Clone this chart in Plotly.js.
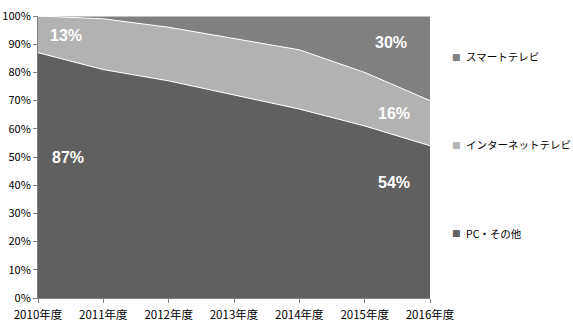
<!DOCTYPE html>
<html><head><meta charset="utf-8">
<script src="https://cdn.plot.ly/plotly-3.0.1.min.js"></script>
<style>body{margin:0;padding:0;background:#fff}#chart{width:573px;height:323px}</style>
</head><body><div id="chart"></div>
<script>
const categories = ["2010年度","2011年度","2012年度","2013年度","2014年度","2015年度","2016年度"];
const pcOther = [87, 81, 77, 72, 67, 61, 54];
const internetTV = [13, 18, 19, 20, 21, 19, 16];
const smartTV = [0, 1, 4, 8, 12, 20, 30];
const seriesNames = ["PC・その他", "インターネットテレビ", "スマートテレビ"];
const colors = ["#606060", "#b2b2b2", "#808080"];
const yTicks = [0,10,20,30,40,50,60,70,80,90,100];
const yTickLabels = yTicks.map(v => v + "%");
// data labels: [category index, y position (%), text]
const labelX = [0, 0, 6, 6, 6];
const labelY = [93, 50, 90.5, 65.5, 41];
const labelText = ["13%", "87%", "30%", "16%", "54%"];
const labelAnchor = ["left", "left", "right", "right", "right"];
const labelShift = [10, 12, -21, -18, -18];
// legend rows (top to bottom): series index and vertical paper position
const legendOrder = [2, 1, 0];
const legendY = [0.855, 0.543, 0.230];

const font = "'Noto Sans CJK JP', 'DejaVu Sans', sans-serif";
const xs = categories.map((c, i) => i);
const series = [pcOther, internetTV, smartTV];
const traces = series.map((vals, i) => ({
  x: xs, y: vals, type: "scatter", mode: "lines", stackgroup: "one",
  name: seriesNames[i], line: {color: "#ffffff", width: 1}, fillcolor: colors[i],
  showlegend: false, hoverinfo: "skip"
}));

const annotations = labelText.map((t, i) => ({
  x: labelX[i], y: labelY[i], xref: "x", yref: "y", text: t, showarrow: false,
  xanchor: labelAnchor[i], yanchor: "middle", xshift: labelShift[i],
  font: {family: "'Liberation Sans', Arial, sans-serif", size: 16, color: "#ffffff", weight: "bold"}
}));
legendOrder.forEach((si, k) => {
  annotations.push({x: 1.052, y: legendY[k], xref: "paper", yref: "paper", text: "■",
    showarrow: false, xanchor: "left", yanchor: "middle",
    font: {family: "'DejaVu Sans', sans-serif", size: 9, color: colors[si]}});
  annotations.push({x: 1.086, y: legendY[k], xref: "paper", yref: "paper", text: seriesNames[si],
    showarrow: false, xanchor: "left", yanchor: "middle",
    font: {family: font, size: 10.5, color: "#000000"}});
});

const layout = {
  width: 573, height: 323,
  margin: {l: 38, r: 143, t: 16, b: 25},
  paper_bgcolor: "#ffffff", plot_bgcolor: "#ffffff",
  font: {family: font, size: 12, color: "#000000"},
  showlegend: false,
  xaxis: {range: [0, 6], tickvals: xs, ticktext: categories, showgrid: false, zeroline: false,
          showline: true, linecolor: "#808080", linewidth: 1, ticks: "outside", ticklen: 4,
          tickcolor: "#808080", fixedrange: true, ticklabelstandoff: 2,
          tickfont: {family: font, size: 11.5, color: "#000"}},
  yaxis: {range: [0, 100], tickvals: yTicks, ticktext: yTickLabels, showgrid: false, zeroline: false,
          showline: true, linecolor: "#808080", linewidth: 1, ticks: "outside", ticklen: 4,
          tickcolor: "#808080", fixedrange: true,
          tickfont: {family: font, size: 11, color: "#000"}},
  annotations: annotations
};
Plotly.newPlot("chart", traces, layout, {displayModeBar: false, staticPlot: true});
</script></body></html>
